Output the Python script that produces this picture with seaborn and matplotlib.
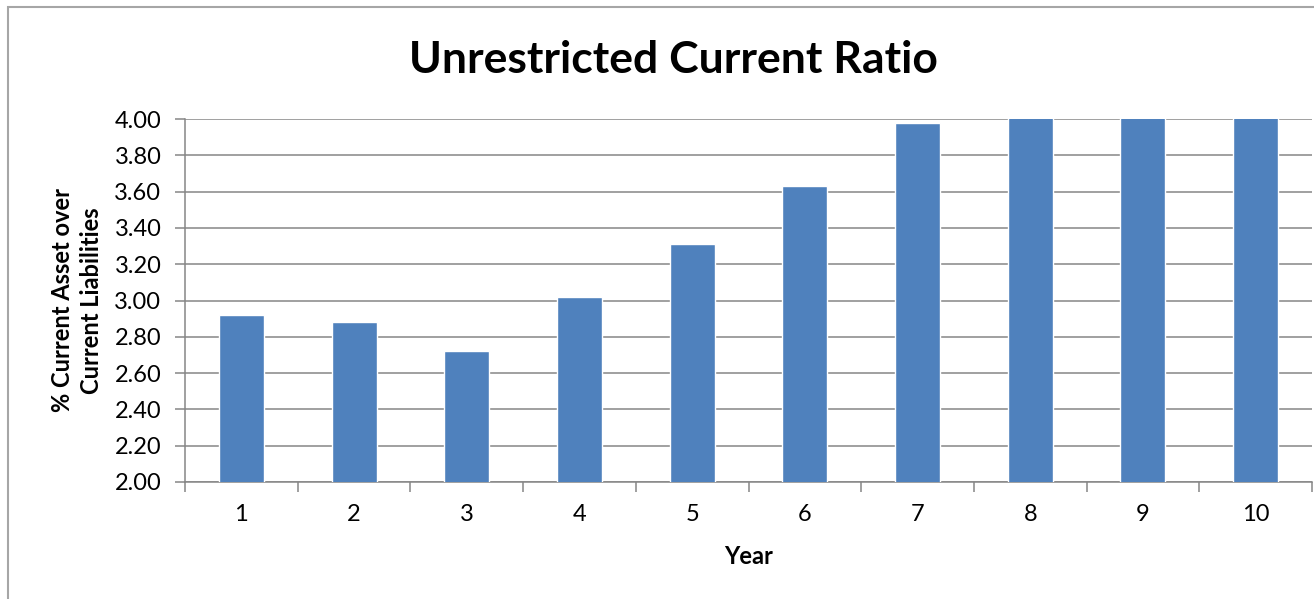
import numpy as np
import pandas as pd
import seaborn as sns
import matplotlib.pyplot as plt
from matplotlib.patches import Rectangle
from matplotlib.ticker import FixedLocator

# values (years 8-10 run past the 4.00 axis limit)
years = ["1", "2", "3", "4", "5", "6", "7", "8", "9", "10"]
ratios = [2.92, 2.88, 2.72, 3.02, 3.31, 3.63, 3.98, 4.25, 4.50, 4.75]
yticks = [2.0, 2.2, 2.4, 2.6, 2.8, 3.0, 3.2, 3.4, 3.6, 3.8, 4.0]

BAR = "#4F81BD"
GRID = "#868686"

sns.set_theme(style="white")
plt.rcParams['font.family'] = ['Lato', 'DejaVu Sans']
plt.rcParams['text.color'] = 'black'
plt.rcParams['axes.labelcolor'] = 'black'

df = pd.DataFrame({"Year": years, "Ratio": ratios})

fig = plt.figure(figsize=(13.14, 5.99), dpi=100)
ax = fig.add_axes([185/1314, 1 - 482/599, (1312 - 185)/1314, (482 - 119)/599])

sns.barplot(data=df, x="Year", y="Ratio", color=BAR, width=0.4,
            saturation=1, ax=ax, zorder=3)

ax.set_ylim(2.0, 4.0)
ax.set_xlim(-0.5, len(years) - 0.5)
ax.set_yticks(yticks)
ax.set_yticklabels([f"{v:.2f}" for v in yticks])
ax.yaxis.grid(True, color=GRID, linewidth=1.1, zorder=0)
ax.set_axisbelow(True)

# ticks between categories like a spreadsheet chart
ax.xaxis.set_minor_locator(FixedLocator(np.arange(-0.5, len(years), 1.0)))
ax.tick_params(axis="x", which="major", length=0, pad=16, labelsize=17, labelcolor="black")
ax.tick_params(axis="x", which="minor", bottom=True, length=7, width=1.1, color=GRID)
ax.tick_params(axis="y", left=True, length=7, width=1.1, color=GRID, pad=10,
               labelsize=17, labelcolor="black")

for side in ["top", "right"]:
    ax.spines[side].set_visible(False)
for side in ["left", "bottom"]:
    ax.spines[side].set_color(GRID)
    ax.spines[side].set_linewidth(1.1)

ax.set_xlabel("Year", fontsize=17, fontweight="bold", labelpad=14)
ax.set_ylabel("% Current Asset over\nCurrent Liabilities", fontsize=17,
              fontweight="bold", labelpad=8, linespacing=1.33)

fig.text(673/1314, 1 - 60/599, "Unrestricted Current Ratio", ha="center", va="center",
         fontsize=32, fontweight="bold", color="black")

# chart-area border (cut off on the right and bottom in the reference)
fig.patches.append(Rectangle((8/1314, -0.1), 1.2, 1.1 - 7/599, transform=fig.transFigure,
                             fill=False, edgecolor="#a6a6a6", linewidth=1.5, clip_on=False))

fig.savefig("out.png", dpi=100)
